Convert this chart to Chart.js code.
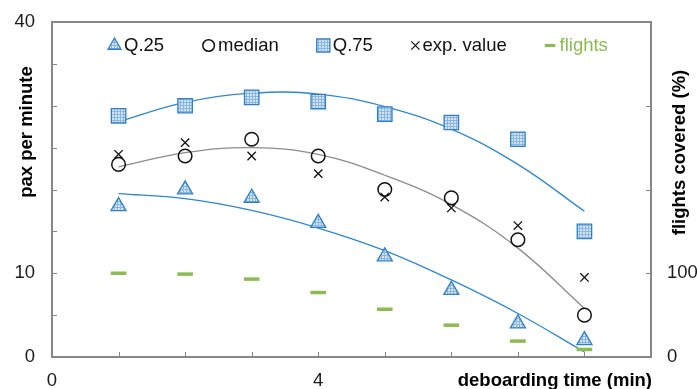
<!DOCTYPE html>
<html><head><meta charset="utf-8">
<script src="https://cdn.jsdelivr.net/npm/chart.js@4/dist/chart.umd.min.js"></script>
<style>html,body{margin:0;padding:0;background:#fff}#wrap{width:697px;height:389px;position:relative}</style>
</head><body><div id="wrap"><canvas id="c" width="697" height="389"></canvas></div>
<script>
// ---- data ----
const deboardingTime = [1, 2, 3, 4, 5, 6, 7, 8];
const q25 = [18, 20, 19, 16, 12, 8, 4, 2];
const median = [23, 24, 26, 24, 20, 19, 14, 5];
const q75 = [28.8, 30, 31, 30.5, 29, 28, 26, 15];
const expValue = [24.2, 25.6, 24, 21.9, 19.1, 17.8, 15.7, 9.5];
const flights = [100, 99, 93, 77, 57, 38, 19, 9];
// trend curves (at each minute)
const trendQ25 = [19.5, 18.9, 17.5, 15.4, 12.7, 9.2, 5.2, 0.6];
const trendMedian = [22.7, 24.4, 25.0, 24.2, 21.7, 18.2, 13.0, 5.8];
const trendQ75 = [28.1, 30.4, 31.5, 31.4, 29.9, 27.2, 23.0, 17.4];
const seriesNames = ['Q.25', 'median', 'Q.75', 'exp. value', 'flights'];
const leftTickLabels = [0, 10, 40];
const rightTickLabels = [0, 100];
const xTickLabels = [0, 4];
const leftTitle = 'pax per minute';
const rightTitle = 'flights covered (%)';
const xTitle = 'deboarding time (min)';

const FONT = '"Liberation Sans", Arial, Helvetica, sans-serif';
const BLUE = '#2F80C6';
const LINEBLUE = '#2E88D0';
const GREEN = '#8CBB4F';
const GRAY = '#878787';

const canvas = document.getElementById('c');
const ctx0 = canvas.getContext('2d');
function makePattern() {
  const pc = document.createElement('canvas');
  pc.width = 3; pc.height = 3;
  const p = pc.getContext('2d');
  p.fillStyle = '#D2E4F4'; p.fillRect(0, 0, 3, 3);
  p.fillStyle = '#8AB6E0'; p.fillRect(0, 0, 3, 1); p.fillRect(0, 0, 1, 3);
  return ctx0.createPattern(pc, 'repeat');
}
const pattern = makePattern();

const pts = arr => deboardingTime.map((x, i) => ({ x: x, y: arr[i] }));

const markerStyles = [
  { pointStyle: 'triangle', pointRadius: 8.7, legendRadius: 7.5, pointBackgroundColor: pattern, pointBorderColor: BLUE, pointBorderWidth: 1.3 },
  { pointStyle: 'circle', pointRadius: 6.8, legendRadius: 5.8, pointBackgroundColor: 'rgba(0,0,0,0)', pointBorderColor: '#111', pointBorderWidth: 1.5 },
  { pointStyle: 'rect', pointRadius: 10.2, legendRadius: 9.3, pointBackgroundColor: pattern, pointBorderColor: BLUE, pointBorderWidth: 1.3 },
  { pointStyle: 'crossRot', pointRadius: 5.9, legendRadius: 5.8, pointBackgroundColor: 'rgba(0,0,0,0)', pointBorderColor: '#111', pointBorderWidth: 1.3 },
  { pointStyle: 'line', pointRadius: 7.8, legendRadius: 5.3, pointBackgroundColor: GREEN, pointBorderColor: GREEN, pointBorderWidth: 3.5 }
];
const markerData = [q25, median, q75, expValue, flights];

const datasets = markerData.map((arr, i) => Object.assign({
  label: seriesNames[i],
  data: pts(arr),
  yAxisID: i === 4 ? 'y2' : 'y',
  showLine: false,
  clip: false
}, markerStyles[i]));

[[trendQ25, LINEBLUE], [trendMedian, '#8C8C8C'], [trendQ75, LINEBLUE]].forEach(([arr, col]) => {
  datasets.push({
    label: 'trend', data: pts(arr), yAxisID: 'y', showLine: true,
    borderColor: col, borderWidth: 1.3, pointRadius: 0, tension: 0.4, fill: false
  });
});

const tickFont = { family: FONT, size: 18.5 };
const noPad = s => { s.paddingTop = 0; s.paddingBottom = 0; s.paddingLeft = 0; s.paddingRight = 0; };

const decor = {
  id: 'decor',
  beforeDatasetsDraw(chart) {
    const { ctx, chartArea: a } = chart;
    ctx.save();
    ctx.strokeStyle = GRAY;
    ctx.lineWidth = 2;
    ctx.strokeRect(a.left, a.top, a.right - a.left, a.bottom - a.top);
    ctx.lineWidth = 1;
    const L = 5;
    const sx = chart.scales.x, sy = chart.scales.y, sy2 = chart.scales.y2;
    sx.ticks.forEach(t => {
      if (t.value <= sx.min || t.value >= sx.max) return;
      const px = Math.round(sx.getPixelForValue(t.value)) + 0.5;
      ctx.beginPath(); ctx.moveTo(px, a.bottom); ctx.lineTo(px, a.bottom - L); ctx.stroke();
    });
    sy.ticks.forEach(t => {
      if (t.value <= sy.min || t.value >= sy.max) return;
      const py = Math.round(sy.getPixelForValue(t.value)) + 0.5;
      ctx.beginPath(); ctx.moveTo(a.left, py); ctx.lineTo(a.left + L, py); ctx.stroke();
    });
    sy2.ticks.forEach(t => {
      if (t.value <= sy2.min || t.value >= sy2.max) return;
      const py = Math.round(sy2.getPixelForValue(t.value)) + 0.5;
      ctx.beginPath(); ctx.moveTo(a.right, py); ctx.lineTo(a.right - L, py); ctx.stroke();
    });
    ctx.restore();
  },
  afterDraw(chart) {
    const { ctx } = chart;
    ctx.save();
    // axis titles
    ctx.fillStyle = '#000';
    ctx.font = 'bold 18.5px ' + FONT;
    ctx.textAlign = 'center'; ctx.textBaseline = 'middle';
    ctx.save(); ctx.translate(27, 132); ctx.rotate(-Math.PI / 2); ctx.fillText(leftTitle, 0, 0); ctx.restore();
    ctx.save(); ctx.translate(680, 152.5); ctx.rotate(-Math.PI / 2); ctx.fillText(rightTitle, 0, 0); ctx.restore();
    ctx.textAlign = 'right';
    ctx.fillText(xTitle, 652, 381);
    // legend
    ctx.font = '18.5px ' + FONT;
    ctx.textAlign = 'left';
    const ly = 45.5;
    let x = 108;
    chart.data.datasets.slice(0, 5).forEach((ds, i) => {
      const st = markerStyles[i];
      const half = i === 3 ? 4.5 : (i === 4 ? 5.3 : 6.5);
      const cx = x + half;
      ctx.fillStyle = st.pointBackgroundColor;
      ctx.strokeStyle = st.pointBorderColor;
      ctx.lineWidth = i === 4 ? 3.2 : st.pointBorderWidth;
      Chart.helpers.drawPoint(ctx, { pointStyle: st.pointStyle, radius: st.legendRadius, rotation: 0, borderWidth: ctx.lineWidth }, cx, ly);
      const tx = cx + (i === 3 ? 7 : 9.5);
      ctx.fillStyle = i === 4 ? GREEN : '#111';
      ctx.fillText(ds.label, tx, ly);
      x = tx + ctx.measureText(ds.label).width + 38;
    });
    ctx.restore();
  }
};

new Chart(canvas, {
  type: 'scatter',
  data: { datasets: datasets },
  options: {
    responsive: false,
    devicePixelRatio: 1,
    animation: false,
    events: [],
    layout: { padding: { top: 22, left: 0, right: 0, bottom: 0 } },
    plugins: { legend: { display: false }, tooltip: { enabled: false } },
    scales: {
      x: {
        type: 'linear', position: 'bottom', min: 0, max: 9,
        grid: { display: false, drawTicks: false }, border: { display: false },
        ticks: { stepSize: 1, padding: 13, autoSkip: false, maxRotation: 0, font: tickFont, color: '#1a1a1a',
          callback: v => xTickLabels.includes(v) ? String(v) : '' },
        afterFit: s => { s.height = 32; noPad(s); }
      },
      y: {
        type: 'linear', position: 'left', min: 0, max: 40,
        grid: { display: false, drawTicks: false }, border: { display: false },
        ticks: { stepSize: 5, padding: 17, autoSkip: false, font: tickFont, color: '#1a1a1a',
          callback: v => leftTickLabels.includes(v) ? String(v) : '' },
        afterFit: s => { s.width = 52; noPad(s); }
      },
      y2: {
        type: 'linear', position: 'right', min: 0, max: 400,
        grid: { display: false, drawTicks: false }, border: { display: false },
        ticks: { stepSize: 100, padding: 16, autoSkip: false, font: tickFont, color: '#1a1a1a',
          callback: v => rightTickLabels.includes(v) ? String(v) : '' },
        afterFit: s => { s.width = 46; noPad(s); }
      }
    }
  },
  plugins: [decor]
});
</script></body></html>
